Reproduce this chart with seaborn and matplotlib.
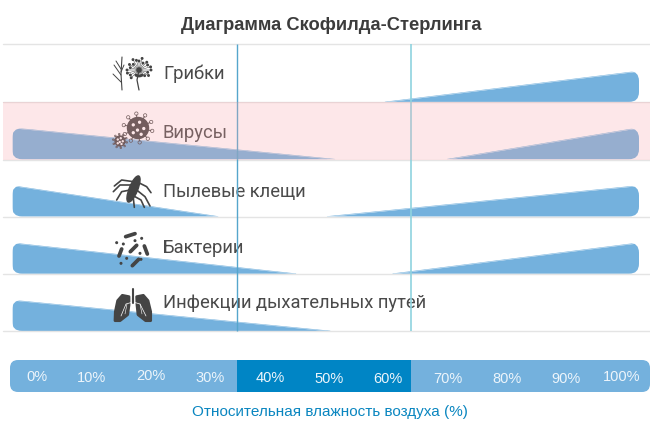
import numpy as np
import matplotlib
matplotlib.use("Agg")
import matplotlib.pyplot as plt
from matplotlib.patches import FancyBboxPatch, Rectangle, Circle, Ellipse, Polygon
import seaborn as sns

# Данные диаграммы
pathogens = ["Грибки", "Вирусы", "Пылевые клещи", "Бактерии", "Инфекции дыхательных путей"]
left_zero = [None, 51.0, 31.2, 44.4, 50.2]
right_zero = [59.5, 70.0, 49.7, 60.8, None]
risk_edge = [0.54, 0.55, 0.54, 0.54, 0.54]
humidity_ticks = [0, 10, 20, 30, 40, 50, 60, 70, 80, 90, 100]
optimal_zone = [34.4, 63.9]
edge_left = -3.7
edge_right = 102.5

BLUE = "#74b1dd"
DARK = "#444444"

sns.set_theme(style="white")
plt.rcParams["font.family"] = ["Liberation Sans", "DejaVu Sans"]

fig = plt.figure(figsize=(6.5, 4.26), dpi=100)
# оси в процентах влажности и в строках диаграммы
ax = fig.add_axes([0, 0, 1, 1])
ax.set_xlim(-34 / 5.9, 616 / 5.9)
ax.set_ylim((331 - 426) / 57.25, 331 / 57.25)
ax.axis("off")
# оси в пикселях для оформления и значков
px = fig.add_axes([0, 0, 1, 1], zorder=2)
px.set_xlim(0, 650)
px.set_ylim(426, 0)
px.axis("off")
px.patch.set_alpha(0)

# линии строк
for y in [44, 102, 160, 217, 274, 331]:
    px.plot([3, 650], [y, y], color="#e4e4e4", lw=1, zorder=1)

# клинья риска
for i, name in enumerate(pathogens):
    base = 4 - i
    base_px = 331 - base * 57.25
    clip = FancyBboxPatch((12, base_px - 31), 627, 31, boxstyle="round,pad=0,rounding_size=10",
                          transform=px.transData, fc="none", ec="none")
    px.add_patch(clip)
    for start, zero in [(edge_left, left_zero[i]), (edge_right, right_zero[i])]:
        if zero is None:
            continue
        xs = np.array([start, zero])
        ys = base + np.array([risk_edge[i], 0])
        line = sns.lineplot(x=xs, y=ys, ax=ax, color=BLUE, lw=0.4, legend=False)
        line.lines[-1].set_clip_path(clip)
        fill = ax.fill_between(xs, base, ys, color=BLUE, lw=0)
        fill.set_clip_path(clip)


def stroke(x, y, lw=1.0, color=DARK):
    px.plot(x, y, color=color, lw=lw, solid_capstyle="round", solid_joinstyle="round", zorder=4)


def dot(x, y, r):
    px.add_patch(Circle((x, y), r, color=DARK, zorder=4))


def draw_fungi():
    stroke([122, 121, 122], [90, 74, 57], 0.8)
    for a, b in [((121, 82), (113, 74)), ((121, 75), (114, 65)), ((121, 69), (116, 61)), ((121, 72), (124, 65))]:
        stroke([a[0], b[0]], [a[1], b[1]], 0.7)
    stroke([139, 137, 139], [70, 80, 90], 0.9)
    radii = [12, 9, 11, 8, 12, 10, 9, 12, 8, 11, 10, 12]
    for k, ang in enumerate(np.linspace(0, 2 * np.pi, 24, endpoint=False)):
        r = radii[k % 12]
        if 0.8 < ang < 2.3:
            r = 6
        stroke([139, 139 + r * np.cos(ang)], [70, 70 + r * np.sin(ang)], 0.35)
        dot(139 + r * np.cos(ang), 70 + r * np.sin(ang), 0.75)
    dot(139, 70, 2)


def draw_virus(cx, cy, r):
    for ang in np.linspace(0.2, 2 * np.pi + 0.2, 10, endpoint=False):
        stroke([cx, cx + 1.25 * r * np.cos(ang)], [cy, cy + 1.25 * r * np.sin(ang)], 0.7)
        px.add_patch(Circle((cx + 1.38 * r * np.cos(ang), cy + 1.38 * r * np.sin(ang)), r * 0.16,
                            fc="none", ec=DARK, lw=0.5, zorder=4))
    px.add_patch(Circle((cx, cy), r, color=DARK, zorder=5))
    for dx, dy in [(-.45, -.3), (.15, -.55), (.55, .05), (-.05, .2), (-.45, .45), (.3, .6)]:
        px.add_patch(Circle((cx + dx * r, cy + dy * r), r * 0.09, color="white", zorder=6))


def draw_mite():
    px.add_patch(Ellipse((133.5, 189), 8.5, 28, angle=22, color=DARK, zorder=5))
    legs = [[(85, 35), (50, 30), (28, 48)], [(80, 45), (45, 45), (25, 65)], [(75, 60), (50, 65), (35, 90)],
            [(85, 85), (88, 112)], [(95, 60), (120, 80), (135, 108)], [(90, 80), (108, 90), (118, 112)],
            [(105, 40), (125, 50), (138, 68)]]
    for leg in legs:
        stroke([105 + p[0] / 3 for p in leg], [170 + p[1] / 3 for p in leg], 1.2)


def draw_bacteria():
    rods = [((62, 200), (90, 191)), ((76, 245), (95, 226)), ((42, 258), (50, 237)),
            ((118, 228), (127, 252)), ((82, 287), (101, 268))]
    for a, b in rods:
        stroke([105 + a[0] / 3, 105 + b[0] / 3], [170 + a[1] / 3, 170 + b[1] / 3], 2.7)
    for x, y in [(110, 205), (35, 218), (55, 222), (90, 212), (65, 265), (108, 268), (48, 280), (105, 250)]:
        dot(105 + x / 3, 170 + y / 3, 0.8)


def draw_lungs():
    conv = lambda pts: [(105 + x / 3, 280 + y / 3) for x, y in pts]
    left = conv([(72, 50), (52, 46), (38, 62), (31, 95), (30, 122), (45, 122), (68, 104), (72, 75)])
    right = conv([(95, 50), (115, 46), (129, 62), (137, 95), (137, 122), (122, 122), (99, 104), (96, 75)])
    stroke([105 + 83 / 3] * 2, [280 + 28 / 3, 280 + 66 / 3], 1.5)
    px.add_patch(Polygon(left, closed=True, fc=DARK, ec=DARK, lw=2, joinstyle="round", zorder=4))
    px.add_patch(Polygon(right, closed=True, fc=DARK, ec=DARK, lw=2, joinstyle="round", zorder=4))
    stroke([133, 126, 121], [302, 304, 316], 0.5, "white")
    stroke([127, 125], [304, 314], 0.4, "white")
    stroke([133, 140, 146], [302, 304, 316], 0.5, "white")
    stroke([140, 142], [304, 314], 0.4, "white")
    stroke([133, 133], [298, 303], 1.5)


draw_fungi()
draw_virus(138, 128, 10.5)
draw_virus(120, 141, 5)
draw_mite()
draw_bacteria()
draw_lungs()

# подписи строк
label_y = [74, 133, 192, 248, 303]
for name, y in zip(pathogens, label_y):
    px.text(163, y, name, fontsize=13.25, color="#4a4a4a", family=["Roboto", "DejaVu Sans"],
            va="center", ha="left", zorder=5)

# границы оптимальной зоны поверх подписей
for v, col, w in [(optimal_zone[0], "#55a6cc", 1.0), (optimal_zone[1], "#8fd3df", 1.2)]:
    vx = 34 + 5.9 * v
    px.plot([vx, vx], [44, 331], color=col, lw=w, zorder=6, solid_capstyle="butt")

# розовая полоса поверх всего в строке вирусов
px.add_patch(Rectangle((3, 102), 647, 58, fc="#fba6aa", ec="none", alpha=0.26, zorder=8))

# шкала влажности
bar_clip = FancyBboxPatch((10, 360), 640, 32, boxstyle="round,pad=0,rounding_size=8",
                          transform=px.transData, fc=BLUE, ec="none", zorder=3)
px.add_patch(bar_clip)
zone_px = [34 + 5.9 * v for v in optimal_zone]
zone_rect = Rectangle((zone_px[0], 360), zone_px[1] - zone_px[0], 32, fc="#0085c5", ec="none", zorder=4)
px.add_patch(zone_rect)
tick_dx = [3, -1, -1, -1, 0, 0, 0, 1, 1, 1, -2]
tick_dy = [1, 2, 0, 2, 2, 3, 3, 3, 3, 3, 1]
for h, dx, dy in zip(humidity_ticks, tick_dx, tick_dy):
    px.text(34 + 5.9 * h + dx, 376 + dy, f"{h}%", color="#edf5fb", fontsize=10.5,
            ha="center", va="center", zorder=5)

px.text(330, 412, "Относительная влажность воздуха (%)", color="#0a86c0", fontsize=10.95,
        ha="center", va="center")
px.text(331, 25, "Диаграмма Скофилда-Стерлинга", color="#3c3c3c", fontsize=13.2,
        fontweight="bold", ha="center", va="center")

plt.savefig("out.png", dpi=100)
